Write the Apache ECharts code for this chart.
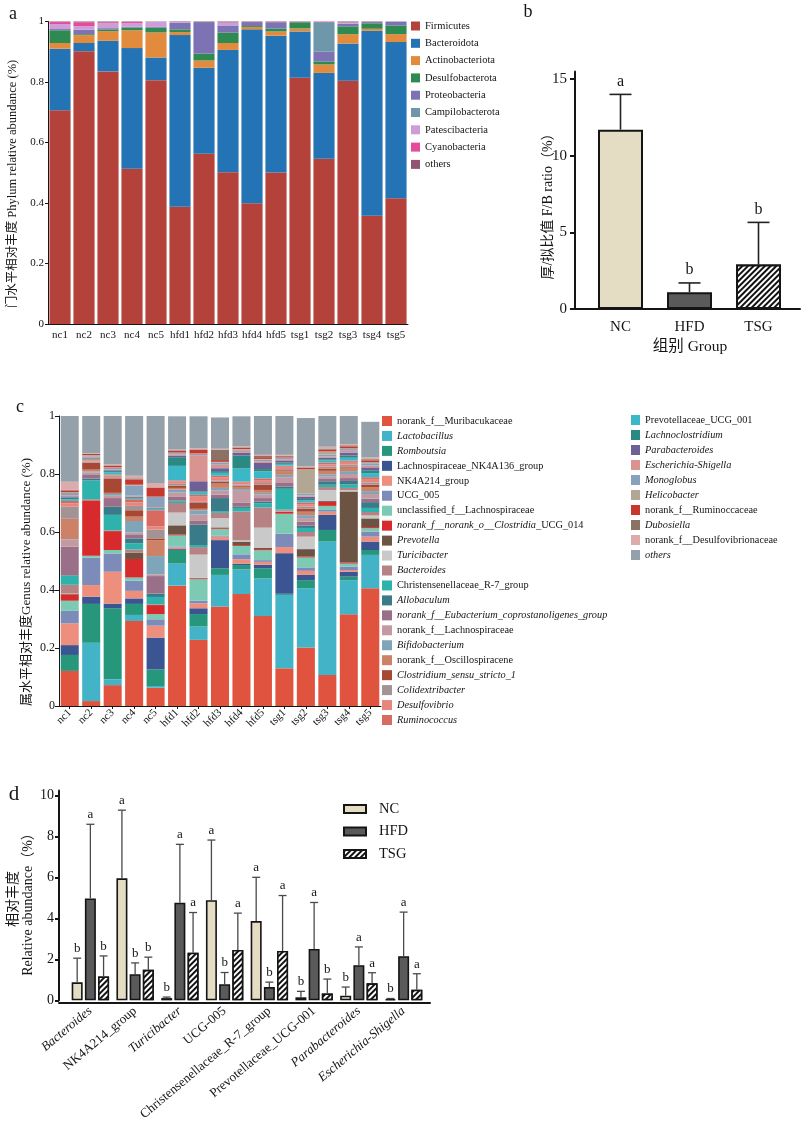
<!DOCTYPE html>
<html>
<head>
<meta charset="utf-8">
<script src="https://cdn.jsdelivr.net/npm/echarts@6/dist/echarts.min.js"></script>
<style>
  html, body { margin: 0; padding: 0; background: #ffffff; }
  #chart { width: 801px; height: 1123px; }
</style>
</head>
<body>
<div id="chart"></div>
<script>
// ---------- samples ----------
const samples = ['nc1', 'nc2', 'nc3', 'nc4', 'nc5', 'hfd1', 'hfd2', 'hfd3', 'hfd4', 'hfd5', 'tsg1', 'tsg2', 'tsg3', 'tsg4', 'tsg5'];

// ---------- (a) phylum relative abundance ----------
const phyla = ['Firmicutes', 'Bacteroidota', 'Actinobacteriota', 'Desulfobacterota', 'Proteobacteria',
  'Campilobacterota', 'Patescibacteria', 'Cyanobacteria', 'others'];
const phyNc1  = [0.707, 0.203, 0.019, 0.042, 0.004, 0, 0.016, 0.007, 0.002];
const phyNc2  = [0.902, 0.027, 0.026, 0.003, 0.015, 0, 0.011, 0.013, 0.003];
const phyNc3  = [0.835, 0.101, 0.032, 0.006, 0.004, 0, 0.016, 0.003, 0.003];
const phyNc4  = [0.513, 0.399, 0.059, 0.009, 0.003, 0, 0.011, 0.004, 0.002];
const phyNc5  = [0.806, 0.075, 0.083, 0.016, 0.002, 0, 0.017, 0, 0.001];
const phyHfd1 = [0.388, 0.567, 0.010, 0.009, 0.022, 0, 0.002, 0, 0.002];
const phyHfd2 = [0.563, 0.284, 0.024, 0.023, 0.104, 0, 0, 0, 0.002];
const phyHfd3 = [0.502, 0.404, 0.023, 0.034, 0.024, 0, 0.010, 0, 0.003];
const phyHfd4 = [0.399, 0.575, 0.008, 0.003, 0.013, 0, 0, 0, 0.002];
const phyHfd5 = [0.501, 0.452, 0.014, 0.010, 0.020, 0, 0, 0, 0.003];
const phyTsg1 = [0.814, 0.153, 0.010, 0.020, 0, 0, 0, 0, 0.003];
const phyTsg2 = [0.546, 0.284, 0.028, 0.010, 0.032, 0.098, 0, 0.002, 0];
const phyTsg3 = [0.804, 0.123, 0.031, 0.026, 0.009, 0, 0.004, 0, 0.003];
const phyTsg4 = [0.358, 0.611, 0.007, 0.018, 0.004, 0, 0, 0, 0.002];
const phyTsg5 = [0.416, 0.516, 0.026, 0.029, 0.013, 0, 0, 0, 0];
const phylumBySample = [phyNc1, phyNc2, phyNc3, phyNc4, phyNc5, phyHfd1, phyHfd2, phyHfd3, phyHfd4, phyHfd5,
  phyTsg1, phyTsg2, phyTsg3, phyTsg4, phyTsg5];

// ---------- (b) Firmicutes / Bacteroidota ratio ----------
const fbGroups = ['NC', 'HFD', 'TSG'];
const fbMean = [11.7, 1.1, 2.9];
const fbSd = [2.3, 0.6, 2.75];
const fbLetters = ['a', 'b', 'b'];

// ---------- (c) genus relative abundance ----------
const genera = ['norank_f__Muribacukaceae', 'Lactobacillus', 'Romboutsia', 'Lachnospiraceae_NK4A136_group',
  'NK4A214_group', 'UCG_005', 'unclassified_f__Lachnospiraceae', 'norank_f__norank_o__Clostridia_UCG_014',
  'Prevotella', 'Turicibacter', 'Bacteroides', 'Christensenellaceae_R-7_group', 'Allobaculum',
  'norank_f__Eubacterium_coprostanoligenes_group', 'norank_f__Lachnospiraceae', 'Bifidobacterium',
  'norank_f__Oscillospiracene', 'Clostridium_sensu_stricto_1', 'Colidextribacter', 'Desulfovibrio',
  'Ruminococcus', 'Prevotellaceae_UCG_001', 'Lachnoclostridium', 'Parabacteroides', 'Escherichia-Shigella',
  'Monoglobus', 'Helicobacter', 'norank_f__Ruminoccaceae', 'Dubosiella', 'norank_f__Desulfovibrionaceae', 'others'];
const genNc1  = [0.121, 0.000, 0.055, 0.034, 0.075, 0.043, 0.035, 0.022, 0.002, 0.001, 0.030, 0.031, 0.002, 0.098, 0.024, 0.002, 0.068, 0.003, 0.041, 0.012, 0.008, 0.006, 0.006, 0.004, 0.004, 0.008, 0.002, 0.006, 0.002, 0.028, 0.227];
const genNc2  = [0.017, 0.201, 0.134, 0.025, 0.040, 0.094, 0.007, 0.191, 0.001, 0.000, 0.003, 0.065, 0.006, 0.015, 0.006, 0.004, 0.006, 0.024, 0.004, 0.004, 0.004, 0.002, 0.002, 0.002, 0.003, 0.004, 0.001, 0.004, 0.001, 0.002, 0.129];
const genNc3  = [0.072, 0.020, 0.245, 0.016, 0.110, 0.063, 0.012, 0.065, 0.001, 0.000, 0.002, 0.053, 0.028, 0.030, 0.008, 0.006, 0.004, 0.050, 0.004, 0.006, 0.003, 0.008, 0.004, 0.003, 0.003, 0.006, 0.001, 0.005, 0.002, 0.004, 0.166];
const genNc4  = [0.293, 0.021, 0.038, 0.019, 0.026, 0.035, 0.011, 0.064, 0.022, 0.000, 0.011, 0.021, 0.017, 0.014, 0.006, 0.040, 0.015, 0.022, 0.015, 0.012, 0.011, 0.004, 0.003, 0.002, 0.003, 0.036, 0.002, 0.018, 0.004, 0.009, 0.206];
const genNc5  = [0.063, 0.006, 0.057, 0.110, 0.041, 0.022, 0.018, 0.031, 0.001, 0.000, 0.002, 0.025, 0.012, 0.060, 0.006, 0.063, 0.055, 0.006, 0.030, 0.012, 0.055, 0.004, 0.002, 0.002, 0.003, 0.035, 0.001, 0.030, 0.002, 0.015, 0.231];
const genHfd1 = [0.415, 0.076, 0.047, 0.003, 0.006, 0.003, 0.038, 0.003, 0.032, 0.044, 0.033, 0.006, 0.003, 0.012, 0.015, 0.010, 0.006, 0.008, 0.006, 0.008, 0.004, 0.050, 0.030, 0.006, 0.004, 0.004, 0.002, 0.006, 0.002, 0.002, 0.115];
const genHfd2 = [0.228, 0.046, 0.043, 0.020, 0.017, 0.009, 0.074, 0.003, 0.002, 0.080, 0.026, 0.007, 0.070, 0.015, 0.020, 0.015, 0.005, 0.020, 0.004, 0.020, 0.004, 0.008, 0.004, 0.035, 0.090, 0.004, 0.002, 0.012, 0.002, 0.004, 0.110];
const genHfd3 = [0.343, 0.109, 0.023, 0.097, 0.012, 0.004, 0.023, 0.003, 0.002, 0.032, 0.018, 0.006, 0.045, 0.012, 0.015, 0.008, 0.015, 0.006, 0.005, 0.010, 0.006, 0.010, 0.006, 0.010, 0.012, 0.008, 0.002, 0.006, 0.035, 0.004, 0.108];
const genHfd4 = [0.386, 0.085, 0.015, 0.005, 0.015, 0.017, 0.029, 0.003, 0.012, 0.004, 0.100, 0.012, 0.004, 0.015, 0.040, 0.006, 0.008, 0.004, 0.004, 0.006, 0.004, 0.045, 0.045, 0.010, 0.006, 0.004, 0.002, 0.004, 0.002, 0.004, 0.103];
const genHfd5 = [0.310, 0.130, 0.035, 0.012, 0.010, 0.006, 0.034, 0.004, 0.004, 0.070, 0.070, 0.014, 0.006, 0.012, 0.012, 0.006, 0.010, 0.018, 0.006, 0.010, 0.006, 0.024, 0.008, 0.021, 0.006, 0.006, 0.002, 0.006, 0.004, 0.004, 0.134];
const genTsg1 = [0.130, 0.253, 0.004, 0.140, 0.021, 0.046, 0.069, 0.006, 0.002, 0.002, 0.004, 0.072, 0.008, 0.012, 0.020, 0.008, 0.012, 0.004, 0.004, 0.008, 0.004, 0.006, 0.004, 0.008, 0.004, 0.004, 0.002, 0.004, 0.002, 0.003, 0.134];
const genTsg2 = [0.202, 0.204, 0.028, 0.018, 0.014, 0.012, 0.034, 0.003, 0.026, 0.043, 0.016, 0.014, 0.008, 0.014, 0.012, 0.010, 0.012, 0.010, 0.008, 0.008, 0.006, 0.008, 0.004, 0.008, 0.004, 0.006, 0.085, 0.004, 0.002, 0.004, 0.166];
const genTsg3 = [0.107, 0.460, 0.040, 0.052, 0.011, 0.006, 0.014, 0.014, 0.003, 0.038, 0.010, 0.008, 0.012, 0.010, 0.006, 0.008, 0.012, 0.008, 0.006, 0.008, 0.006, 0.008, 0.004, 0.006, 0.004, 0.006, 0.011, 0.006, 0.004, 0.006, 0.106];
const genTsg4 = [0.316, 0.118, 0.012, 0.017, 0.006, 0.012, 0.010, 0.004, 0.245, 0.004, 0.008, 0.012, 0.012, 0.010, 0.014, 0.010, 0.012, 0.004, 0.006, 0.010, 0.004, 0.010, 0.008, 0.010, 0.006, 0.006, 0.003, 0.006, 0.004, 0.004, 0.097];
const genTsg5 = [0.406, 0.115, 0.017, 0.029, 0.017, 0.017, 0.012, 0.004, 0.030, 0.010, 0.012, 0.014, 0.020, 0.012, 0.016, 0.010, 0.014, 0.008, 0.008, 0.012, 0.006, 0.014, 0.010, 0.010, 0.006, 0.008, 0.004, 0.006, 0.004, 0.006, 0.123];
const genusBySample = [genNc1, genNc2, genNc3, genNc4, genNc5, genHfd1, genHfd2, genHfd3, genHfd4, genHfd5,
  genTsg1, genTsg2, genTsg3, genTsg4, genTsg5];

// ---------- (d) differential genera (mean, upper SD, significance letters) ----------
const diffGenera = ['Bacteroides', 'NK4A214_group', 'Turicibacter', 'UCG-005', 'Christensenellaceae_R-7_group',
  'Prevotellaceae_UCG-001', 'Parabacteroides', 'Escherichia-Shigella'];
const ncMean  = [0.88, 5.96, 0.11, 4.89, 3.87, 0.15, 0.23, 0.06];
const ncSd    = [1.18, 3.33, 0.05, 2.94, 2.14, 0.29, 0.42, 0.03];
const ncSig   = ['b', 'a', 'b', 'a', 'a', 'b', 'b', 'b'];
const hfdMean = [4.98, 1.28, 4.77, 0.79, 0.65, 2.51, 1.72, 2.16];
const hfdSd   = [3.62, 0.55, 2.85, 0.57, 0.24, 2.27, 0.89, 2.15];
const hfdSig  = ['a', 'b', 'a', 'b', 'b', 'a', 'a', 'a'];
const tsgMean = [1.17, 1.49, 2.33, 2.46, 2.41, 0.34, 0.83, 0.52];
const tsgSd   = [1.00, 0.62, 1.96, 1.80, 2.71, 0.70, 0.52, 0.78];
const tsgSig  = ['b', 'b', 'a', 'a', 'a', 'b', 'a', 'a'];

// ---------- styling ----------
const SERIF = '"Liberation Serif", "Times New Roman", "Noto Sans CJK SC", serif';
const INK = '#151515';
const phylumColors = ['#b4423a', '#2473b5', '#e38b3d', '#2e8a50', '#7c72b4', '#6e98a9', '#cc9dd8', '#e54a9c', '#8e5670'];
const genusColors = ['#e0533f', '#43b3c8', '#26977a', '#3a5592', '#ee8f7d', '#7d8bb8', '#7dcab4', '#d62a2c',
  '#6c5444', '#c9c9c9', '#b78284', '#2db2ac', '#3a7b89', '#9a6f88', '#c39aa3', '#7ea6b8', '#cd8268', '#a84733',
  '#a29494', '#e6877f', '#d86a5f', '#3bb8c8', '#2a8a82', '#6e5f96', '#d99491', '#88a2bb', '#b2a794', '#c8372d',
  '#8c7264', '#dcabab', '#94a1ab'];
const italicNames = new Set(['Lactobacillus', 'Romboutsia', 'Prevotella', 'Turicibacter', 'Bacteroides',
  'Allobaculum', 'norank_f__Eubacterium_coprostanoligenes_group', 'Bifidobacterium', 'Clostridium_sensu_stricto_1',
  'Colidextribacter', 'Desulfovibrio', 'Ruminococcus', 'Lachnoclostridium', 'Parabacteroides',
  'Escherichia-Shigella', 'Monoglobus', 'Helicobacter', 'Dubosiella', 'others']);

function richName(name) {
  if (name === 'norank_f__norank_o__Clostridia_UCG_014') {
    return '{i|norank_f__norank_o__Clostridia}{n|_UCG_014}';
  }
  return italicNames.has(name) ? '{i|' + name + '}' : '{n|' + name + '}';
}

const hatch = {
  symbol: 'rect', symbolSize: 1, color: '#111', backgroundColor: '#ffffff',
  dashArrayX: [1, 0], dashArrayY: [2, 2], rotation: -Math.PI / 4
};
const groupStyles = {
  NC:  { color: '#e4ddc3', borderColor: INK, borderWidth: 2 },
  HFD: { color: '#5a5a5a', borderColor: INK, borderWidth: 2 },
  TSG: { color: '#ffffff', borderColor: INK, borderWidth: 2, decal: hatch }
};

// error bar (upper only) with a significance letter on top
function errorBars(opts) {
  return function (params, api) {
    const i = api.value(0);
    const mean = api.value(1);
    const sd = api.value(2);
    const p0 = api.coord([i, mean]);
    const p1 = api.coord([i, mean + sd]);
    const x = p0[0] + opts.offset;
    const style = { stroke: opts.color, lineWidth: opts.width };
    const children = [
      { type: 'line', shape: { x1: x, y1: p0[1], x2: x, y2: p1[1] }, style: style },
      { type: 'line', shape: { x1: x - opts.cap, y1: p1[1], x2: x + opts.cap, y2: p1[1] }, style: style },
      { type: 'text', x: x, y: p1[1] - opts.gap,
        style: { text: opts.letters[params.dataIndex], fontSize: opts.font, fontFamily: SERIF,
                 fill: INK, align: 'center', verticalAlign: 'bottom' } }
    ];
    return { type: 'group', children: children };
  };
}

const series = [];

// (a) stacked phylum bars
phyla.forEach(function (p, k) {
  series.push({
    name: p, type: 'bar', stack: 'phylum', xAxisIndex: 0, yAxisIndex: 0,
    barCategoryGap: '12%', itemStyle: { color: phylumColors[k] },
    data: phylumBySample.map(function (s) { return s[k]; })
  });
});

// (b) F/B ratio bars and error bars
series.push({
  name: 'F/B', type: 'bar', xAxisIndex: 1, yAxisIndex: 1, barWidth: 45,
  data: fbMean.map(function (v, i) { return { value: v, itemStyle: groupStyles[fbGroups[i]] }; })
});
series.push({
  type: 'custom', xAxisIndex: 1, yAxisIndex: 1, z: 5, encode: { x: 0, y: 1 },
  renderItem: errorBars({ offset: 0, cap: 11, gap: 5, font: 16, letters: fbLetters, color: '#222', width: 1.6 }),
  data: fbMean.map(function (v, i) { return [i, v, fbSd[i]]; })
});

// (c) stacked genus bars
genera.forEach(function (g, k) {
  series.push({
    name: 'g:' + g, type: 'bar', stack: 'genus', xAxisIndex: 3, yAxisIndex: 3,
    barCategoryGap: '16%', itemStyle: { color: genusColors[k] },
    data: genusBySample.map(function (s) { return s[k]; })
  });
});

// (d) grouped bars with error bars
const dGroups = [
  { name: 'NC', mean: ncMean, sd: ncSd, sig: ncSig, offset: -13.2 },
  { name: 'HFD', mean: hfdMean, sd: hfdSd, sig: hfdSig, offset: 0 },
  { name: 'TSG', mean: tsgMean, sd: tsgSd, sig: tsgSig, offset: 13.2 }
];
dGroups.forEach(function (g) {
  series.push({
    name: g.name, type: 'bar', xAxisIndex: 4, yAxisIndex: 4, barWidth: 11, barGap: '20%',
    itemStyle: Object.assign({}, groupStyles[g.name], { borderWidth: 1.6 }),
    data: g.mean
  });
});
dGroups.forEach(function (g) {
  series.push({
    type: 'custom', xAxisIndex: 4, yAxisIndex: 4, z: 5, encode: { x: 0, y: 1 },
    renderItem: errorBars({ offset: g.offset, cap: 4, gap: 3, font: 13, letters: g.sig, color: '#4a4a4a', width: 1.3 }),
    data: g.mean.map(function (v, i) { return [i, v, g.sd[i]]; })
  });
});

const thinAxis = { show: true, lineStyle: { color: INK, width: 1 } };
const boldAxis = { show: true, lineStyle: { color: INK, width: 2 } };
const noSplit = { show: false };
const lab = function (size, extra) { return Object.assign({ color: INK, fontFamily: SERIF, fontSize: size }, extra || {}); };

const option = {
  animation: false,
  backgroundColor: '#ffffff',
  textStyle: { fontFamily: SERIF },
  grid: [
    { left: 48, top: 21.5, width: 360, height: 302.5 },
    { left: 586, top: 71.4, width: 207, height: 237.6 },
    { left: 575, top: 71.4, width: 225, height: 237.6 },
    { left: 59, top: 416, width: 322, height: 290 },
    { left: 68, top: 790.5, width: 358, height: 211.8 },
    { left: 59, top: 790.5, width: 371, height: 211.8 }
  ],
  xAxis: [
    { gridIndex: 0, type: 'category', data: samples, axisLine: thinAxis, axisTick: { show: false },
      axisLabel: lab(11, { margin: 6, interval: 0 }) },
    { gridIndex: 1, type: 'category', data: fbGroups, axisLine: { show: false }, axisTick: { show: false },
      axisLabel: lab(15, { margin: 11 }) },
    { gridIndex: 2, type: 'value', min: 0, max: 1, axisLine: boldAxis, axisTick: { show: false },
      axisLabel: { show: false }, splitLine: noSplit },
    { gridIndex: 3, type: 'category', data: samples, axisLine: thinAxis,
      axisTick: { show: true, alignWithLabel: true, length: 3, lineStyle: { color: INK } },
      axisLabel: lab(11, { rotate: 45, margin: 5, interval: 0 }) },
    { gridIndex: 4, type: 'category', data: diffGenera, axisLine: { show: false }, axisTick: { show: false },
      axisLabel: lab(13, {
        rotate: 40, margin: 9, interval: 0,
        formatter: function (v) { return italicNames.has(v) ? '{i|' + v + '}' : '{n|' + v + '}'; },
        rich: { i: lab(13, { fontStyle: 'italic' }), n: lab(13) }
      }) },
    { gridIndex: 5, type: 'value', min: 0, max: 1, axisLine: boldAxis, axisTick: { show: false },
      axisLabel: { show: false }, splitLine: noSplit }
  ],
  yAxis: [
    { gridIndex: 0, type: 'value', min: 0, max: 1, interval: 0.2, axisLine: thinAxis,
      axisTick: { show: true, length: 3, lineStyle: { color: INK } }, axisLabel: lab(11, { margin: 4 }),
      splitLine: noSplit },
    { gridIndex: 1, type: 'value', min: 0, max: 15.5, offset: 11, axisLine: boldAxis,
      axisTick: { show: true, length: 5, customValues: [0, 5, 10, 15], lineStyle: { color: INK, width: 2 } },
      axisLabel: lab(15, { margin: 8, customValues: [0, 5, 10, 15] }), splitLine: noSplit },
    { gridIndex: 2, type: 'value', show: false },
    { gridIndex: 3, type: 'value', min: 0, max: 1, interval: 0.2, axisLine: thinAxis,
      axisTick: { show: true, length: 4, lineStyle: { color: INK } }, axisLabel: lab(12, { margin: 4 }),
      splitLine: noSplit },
    { gridIndex: 4, type: 'value', min: 0, max: 10.25, offset: 9, axisLine: boldAxis,
      axisTick: { show: true, length: 4, customValues: [0, 2, 4, 6, 8, 10], lineStyle: { color: INK, width: 2 } },
      axisLabel: lab(14, { margin: 5, customValues: [0, 2, 4, 6, 8, 10] }), splitLine: noSplit },
    { gridIndex: 5, type: 'value', show: false }
  ],
  legend: [
    { data: phyla, orient: 'vertical', left: 411, top: 20, padding: 0, icon: 'rect', itemWidth: 9, itemHeight: 9,
      itemGap: 5.3, selectedMode: false, textStyle: lab(10.5, { lineHeight: 12 }) },
    { data: genera.slice(0, 21).map(function (g) { return 'g:' + g; }), orient: 'vertical', left: 382, top: 415,
      padding: 0, icon: 'rect', itemWidth: 10, itemHeight: 10, itemGap: 2.95, selectedMode: false,
      formatter: function (n) { return richName(n.slice(2)); },
      textStyle: lab(10.3, { lineHeight: 12, rich: { i: lab(10.3, { fontStyle: 'italic' }), n: lab(10.3) } }) },
    { data: genera.slice(21).map(function (g) { return 'g:' + g; }), orient: 'vertical', left: 631, top: 414,
      padding: 0, icon: 'rect', itemWidth: 9, itemHeight: 10, itemGap: 3, selectedMode: false,
      formatter: function (n) { return richName(n.slice(2)); },
      textStyle: lab(10.3, { lineHeight: 12, rich: { i: lab(10.3, { fontStyle: 'italic' }), n: lab(10.3) } }) },
    { data: ['NC', 'HFD', 'TSG'], orient: 'vertical', left: 343, top: 801.5, padding: 0, icon: 'rect',
      itemWidth: 22, itemHeight: 8, itemGap: 7.5, selectedMode: false,
      textStyle: lab(14.5, { lineHeight: 15, padding: [0, 0, 0, 8] }) }
  ],
  graphic: [
    { type: 'text', x: 13, y: 14, style: { text: 'a', fontSize: 18, fontFamily: SERIF, fill: INK, align: 'center', verticalAlign: 'middle' } },
    { type: 'text', x: 528, y: 12, style: { text: 'b', fontSize: 18, fontFamily: SERIF, fill: INK, align: 'center', verticalAlign: 'middle' } },
    { type: 'text', x: 20, y: 407, style: { text: 'c', fontSize: 18, fontFamily: SERIF, fill: INK, align: 'center', verticalAlign: 'middle' } },
    { type: 'text', x: 14, y: 794, style: { text: 'd', fontSize: 21, fontFamily: SERIF, fill: INK, align: 'center', verticalAlign: 'middle' } },
    { type: 'text', x: 13, y: 184, rotation: Math.PI / 2,
      style: { text: '门水平相对丰度 Phylum relative abundance (%)', fontSize: 12.5, fontFamily: SERIF, fill: INK, align: 'center', verticalAlign: 'middle' } },
    { type: 'text', x: 548, y: 203, rotation: Math.PI / 2,
      style: { text: '厚/拟比值 F/B ratio（%）', fontSize: 14, fontFamily: SERIF, fill: INK, align: 'center', verticalAlign: 'middle' } },
    { type: 'text', x: 690, y: 347,
      style: { text: '组别 Group', fontSize: 15.5, fontFamily: SERIF, fill: INK, align: 'center', verticalAlign: 'middle' } },
    { type: 'text', x: 27, y: 582, rotation: Math.PI / 2,
      style: { text: '属水平相对丰度Genus relative abundance (%)', fontSize: 13, fontFamily: SERIF, fill: INK, align: 'center', verticalAlign: 'middle' } },
    { type: 'text', x: 13, y: 899, rotation: Math.PI / 2,
      style: { text: '相对丰度', fontSize: 14, fontFamily: SERIF, fill: INK, align: 'center', verticalAlign: 'middle' } },
    { type: 'text', x: 28, y: 901, rotation: Math.PI / 2,
      style: { text: 'Relative abundance（%）', fontSize: 14, fontFamily: SERIF, fill: INK, align: 'center', verticalAlign: 'middle' } }
  ],
  series: series
};

const chart = echarts.init(document.getElementById('chart'), null, { renderer: 'canvas' });
chart.setOption(option);
</script>
</body>
</html>
